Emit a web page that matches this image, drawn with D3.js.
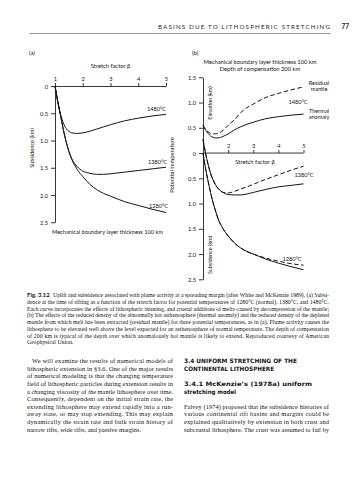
<!DOCTYPE html>
<html><head><meta charset="utf-8">
<script src="https://cdn.jsdelivr.net/npm/d3@7"></script>
<style>html,body{margin:0;padding:0;background:#fff;} svg{display:block;}</style>
</head><body>
<svg id="page" width="359" height="480"></svg>
<script>
// ---------- DATA ----------
const stretchFactor = [1, 1.1, 1.2, 1.3, 1.4, 1.5, 1.6, 1.8, 2.0, 2.25, 2.5, 2.75, 3.0, 3.5, 4.0, 4.5, 5.0];
// (a) subsidence (km) at time of rifting
const subsA1480 = [0, 0.30, 0.52, 0.68, 0.78, 0.83, 0.86, 0.87, 0.86, 0.83, 0.79, 0.75, 0.71, 0.64, 0.59, 0.55, 0.52];
const subsA1380 = [0, 0.28, 0.54, 0.80, 1.02, 1.20, 1.33, 1.48, 1.56, 1.60, 1.62, 1.62, 1.61, 1.58, 1.55, 1.52, 1.49];
const subsA1280 = [0, 0.28, 0.54, 0.80, 1.02, 1.20, 1.34, 1.53, 1.66, 1.80, 1.90, 1.97, 2.02, 2.12, 2.19, 2.26, 2.32];
// (b) elevation (km, negative = subsidence)
const elevB1480Thermal  = [0.55, 0.46, 0.39, 0.34, 0.31, 0.30, 0.30, 0.33, 0.38, 0.46, 0.52, 0.57, 0.61, 0.68, 0.72, 0.75, 0.77];
const elevB1480Residual = [0.55, 0.47, 0.42, 0.39, 0.38, 0.38, 0.39, 0.45, 0.55, 0.66, 0.80, 0.90, 0.97, 1.10, 1.18, 1.25, 1.31];
const elevB1380Thermal  = [0.27, 0.00, -0.22, -0.40, -0.53, -0.63, -0.70, -0.78, -0.82, -0.83, -0.83, -0.81, -0.78, -0.72, -0.67, -0.64, -0.61];
const elevB1380Residual = [0.27, 0.00, -0.22, -0.40, -0.53, -0.63, -0.70, -0.78, -0.79, -0.76, -0.71, -0.67, -0.62, -0.52, -0.43, -0.34, -0.26];
const elevB1280Thermal  = [0, -0.30, -0.55, -0.78, -0.98, -1.15, -1.30, -1.50, -1.64, -1.78, -1.88, -1.95, -2.00, -2.10, -2.18, -2.25, -2.31];
const elevB1280Residual = [0, -0.30, -0.55, -0.78, -0.98, -1.15, -1.30, -1.50, -1.64, -1.78, -1.88, -1.95, -2.00, -2.08, -2.14, -2.19, -2.22];
// tick labels
const xTicksA = [1, 2, 3, 4, 5];
const xTicksB = [2, 3, 4, 5];
const yTicksA = [0, 0.5, 1.0, 1.5, 2.0, 2.5];
const yTicksB = [1.5, 1.0, 0.5, 0, -0.5, -1.0, -1.5, -2.0, -2.5];
const tempLabels = ["1480°C", "1380°C", "1280°C"];

// ---------- TEXT ----------
const header = "BASINS DUE TO LITHOSPHERIC STRETCHING";
const pageNo = "77";
const captionLabel = "Fig. 3.12";
const captionLines = [
 "Uplift and subsidence associated with plume activity at a spreading margin (after White and McKenzie 1989). (a) Subsi-",
 "dence at the time of rifting as a function of the stretch factor for potential temperatures of 1280°C (normal), 1380°C, and 1480°C.",
 "Each curve incorporates the effects of lithospheric thinning, and crustal additions of melts caused by decompression of the mantle;",
 "(b) The effects of the reduced density of the abnormally hot asthenosphere (thermal anomaly) and the reduced density of the depleted",
 "mantle from which melt has been extracted (residual mantle) for three potential temperatures, as in (a). Plume activity causes the",
 "lithosphere to be elevated well above the level expected for an asthenosphere of normal temperature. The depth of compensation",
 "of 200 km is typical of the depth over which anomalously hot mantle is likely to extend. Reproduced courtesy of American",
 "Geophysical Union."
];
const leftCol = [
 "We will examine the results of numerical models of",
 "lithospheric extension in §3.6. One of the major results",
 "of numerical modeling is that the changing temperature",
 "field of lithospheric particles during extension results in",
 "a changing viscosity of the mantle lithosphere over time.",
 "Consequently, dependent on the initial strain rate, the",
 "extending lithosphere may extend rapidly into a run-",
 "away state, or may stop extending. This may explain",
 "dynamically the strain rate and bulk strain history of",
 "narrow rifts, wide rifts, and passive margins."
];
const heading1 = ["3.4 UNIFORM STRETCHING OF THE", "CONTINENTAL LITHOSPHERE"];
const heading2 = ["3.4.1 McKenzie’s (1978a) uniform", "stretching model"];
const rightCol = [
 "Falvey (1974) proposed that the subsidence histories of",
 "various continental rift basins and margins could be",
 "explained qualitatively by extension in both crust and",
 "subcrustal lithosphere. The crust was assumed to fail by"
];

// ---------- DRAW ----------
const svg = d3.select("#page");
svg.append("rect").attr("width",359).attr("height",480).attr("fill","#fff");
const SANS = "Lato, 'Open Sans', sans-serif";
const HEAD = "'DejaVu Sans', 'Open Sans', sans-serif";
const SERIF = "'Liberation Serif', 'DejaVu Serif', serif";
const INK = "#141414";

function txt(x, y, s, o = {}) {
  const size = o.size || 5.8;
  const t = svg.append("text")
    .attr("x", x).attr("y", y + 0.35 * size)
    .attr("font-family", o.family || SANS)
    .attr("font-size", size)
    .attr("font-weight", o.weight || "normal")
    .attr("fill", o.fill || INK)
    .attr("text-anchor", o.anchor || "start")
    .text(s);
  if (o.len) t.attr("textLength", o.len).attr("lengthAdjust", o.adjust || "spacing");
  if (o.rotate) { t.attr("x", 0).attr("y", 0.35 * size).attr("transform", `translate(${x},${y}) rotate(${o.rotate})`); }
  return t;
}

// header
txt(330, 26.5, header, {size: 6.2, anchor: "end", fill: "#2a2a2a", len: 172});
txt(349, 26.5, pageNo, {size: 6.5, anchor: "end", weight: "bold", fill: "#2a2a2a"});
svg.append("line").attr("x1", 29).attr("x2", 331).attr("y1", 33.5).attr("y2", 33.5)
  .attr("stroke", "#999").attr("stroke-width", 1);

const lineGen = (x, y) => d3.line().x(d => x(d[0])).y(d => y(d[1])).curve(d3.curveMonotoneX);
const zip = (a, b) => a.map((v, i) => [v, b[i]]);

// ===== Panel (a) =====
const xA = d3.scaleLinear().domain([1, 5]).range([55, 166]);
const yA = d3.scaleLinear().domain([0, 2.5]).range([86, 222.3]);
const gA = svg.append("g");
const axXA = gA.append("g").attr("transform", `translate(0,${yA(0)})`)
  .call(d3.axisTop(xA).tickValues(xTicksA).tickFormat(d3.format("d")).tickSize(3).tickSizeOuter(0).tickPadding(2));
const axYA = gA.append("g").attr("transform", `translate(${xA(1)},0)`)
  .call(d3.axisLeft(yA).tickValues(yTicksA).tickFormat(d => d === 0 ? "0" : d3.format(".1f")(d)).tickSize(4).tickSizeOuter(0).tickPadding(3));
[axXA, axYA].forEach(a => {
  a.selectAll("path,line").attr("stroke", INK).attr("stroke-width", 0.85);
  a.selectAll("text").attr("font-family", SANS).attr("font-size", 5.7).attr("fill", INK);
});
axYA.selectAll("text").attr("dy", "0.35em");

const curvesA = [subsA1480, subsA1380, subsA1280];
curvesA.forEach(c => {
  gA.append("path").datum(zip(stretchFactor, c)).attr("d", lineGen(xA, yA))
    .attr("fill", "none").attr("stroke", INK).attr("stroke-width", 1);
});
txt(29, 53, "(a)", {size: 6});
txt(110.5, 66, "Stretch factor β", {size: 5.8, anchor: "middle"});
txt(166, 109.3, tempLabels[0], {size: 5.6, anchor: "end"});
txt(167, 161.7, tempLabels[1], {size: 5.6, anchor: "end"});
txt(168, 206, tempLabels[2], {size: 5.6, anchor: "end"});
txt(32, 148, "Subsidence (km)", {size: 5.6, anchor: "middle", rotate: -90});
txt(172, 165, "Potential temperature", {size: 5.8, anchor: "middle", rotate: -90});
txt(107.5, 232, "Mechanical boundary layer thickness 100 km", {size: 5.6, anchor: "middle", len: 111});

// ===== Panel (b) =====
const xB = d3.scaleLinear().domain([1, 5]).range([203, 303.5]);
const yB = d3.scaleLinear().domain([1.5, -2.5]).range([77.3, 279.3]);
const gB = svg.append("g");
const axXB = gB.append("g").attr("transform", `translate(0,${yB(0)})`)
  .call(d3.axisTop(xB).tickValues(xTicksB).tickFormat(d3.format("d")).tickSize(3).tickSizeOuter(0).tickPadding(2));
const axYB = gB.append("g").attr("transform", `translate(${xB(1)},0)`)
  .call(d3.axisLeft(yB).tickValues(yTicksB).tickFormat(d => d === 0 ? "0" : d3.format(".1f")(Math.abs(d))).tickSize(4).tickSizeOuter(0).tickPadding(3));
axXB.select(".domain").attr("d", `M${xB(1)},0H${xB(5)}`);
[axXB, axYB].forEach(a => {
  a.selectAll("path,line").attr("stroke", INK).attr("stroke-width", 0.85);
  a.selectAll("text").attr("font-family", SANS).attr("font-size", 5.7).attr("fill", INK);
});
axYB.selectAll("text").attr("dy", "0.35em");

const curvesB = [
  [elevB1480Thermal, false], [elevB1480Residual, true],
  [elevB1380Thermal, false], [elevB1380Residual, true],
  [elevB1280Thermal, false], [elevB1280Residual, true]
];
curvesB.forEach(([c, dashed]) => {
  gB.append("path").datum(zip(stretchFactor, c)).attr("d", lineGen(xB, yB))
    .attr("fill", "none").attr("stroke", INK).attr("stroke-width", 1)
    .attr("stroke-dasharray", dashed ? "4.5,2.5" : null);
});
txt(192, 53, "(b)", {size: 6});
txt(260, 61.7, "Mechanical boundary layer thickness 100 km", {size: 5.8, anchor: "middle", len: 113});
txt(260, 68.5, "Depth of compensation 200 km", {size: 5.8, anchor: "middle"});
txt(210, 103, "Elevation (km)", {size: 5.4, anchor: "middle", rotate: -90});
txt(210, 255, "Subsidence (km)", {size: 5.4, anchor: "middle", rotate: -90});
txt(255, 161.5, "Stretch factor β", {size: 5.8, anchor: "middle"});
txt(319, 82.7, "Residual", {size: 5.6, anchor: "middle"});
txt(319, 88.9, "mantle", {size: 5.6, anchor: "middle"});
txt(298, 101.7, tempLabels[0], {size: 5.6, anchor: "middle"});
txt(319, 110.7, "Thermal", {size: 5.6, anchor: "middle"});
txt(319, 117, "anomaly", {size: 5.6, anchor: "middle"});
txt(304, 175, tempLabels[1], {size: 5.6, anchor: "middle"});
txt(292, 259.5, tempLabels[2], {size: 5.6, anchor: "middle"});

// ===== Caption =====
const capTop = 295, capStep = 6.75, capL = 27, capR = 329;
txt(capL, capTop, captionLabel, {size: 6, weight: "bold", family: SANS});
captionLines.forEach((s, i) => {
  const x0 = i === 0 ? capL + 26 : capL;
  const last = i === captionLines.length - 1;
  txt(x0, capTop + i * capStep, s, {size: 5.8, family: SERIF, len: last ? null : capR - x0});
});

// ===== Body columns =====
const bodyTop = 361, bodyStep = 7.6, lL = 27, lR = 173, rL = 184, rR = 329;
leftCol.forEach((s, i) => {
  const x0 = i === 0 ? lL + 5 : lL;
  const last = i === leftCol.length - 1;
  txt(x0, bodyTop + i * bodyStep, s, {size: 6.4, family: SERIF, len: last ? null : lR - x0});
});
const hOpt = {size: 6, weight: "bold", family: HEAD, adjust: "spacingAndGlyphs"};
txt(rL, bodyTop, heading1[0], {...hOpt, len: 113});
txt(rL, bodyTop + bodyStep, heading1[1], {...hOpt, len: 90});
txt(rL, bodyTop + 3 * bodyStep, heading2[0], {...hOpt, len: 128});
txt(rL, bodyTop + 4 * bodyStep, heading2[1], {...hOpt, len: 52});
rightCol.forEach((s, i) => {
  txt(rL, bodyTop + (6 + i) * bodyStep, s, {size: 6.4, family: SERIF, len: rR - rL});
});
</script>
</body></html>
